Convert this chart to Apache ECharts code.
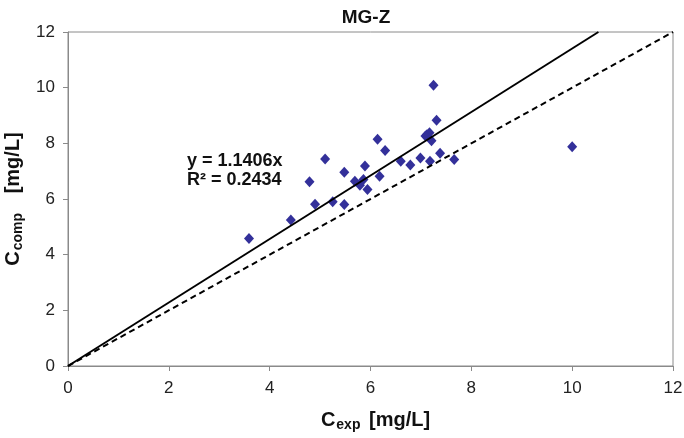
<!DOCTYPE html>
<html>
<head>
<meta charset="utf-8">
<script src="https://cdn.jsdelivr.net/npm/echarts@6/dist/echarts.min.js"></script>
<style>html,body{margin:0;padding:0;background:#fff}#c{width:684px;height:438px}</style>
</head>
<body>
<div id="c"></div>
<script>
const titleText = 'MG-Z';
const xTicks = [0, 2, 4, 6, 8, 10, 12];
const yTicks = [0, 2, 4, 6, 8, 10, 12];
const cExp = [3.59, 4.42, 4.79, 4.90, 5.10, 5.25, 5.48, 5.48, 5.69, 5.79, 5.86, 5.94, 5.89, 6.14, 6.18, 6.29, 6.60, 6.79, 6.99, 7.12, 7.17, 7.09, 7.21, 7.18, 7.25, 7.31, 7.38, 7.66, 10.0];
const cComp = [4.58, 5.25, 6.62, 5.81, 7.44, 5.90, 6.96, 5.80, 6.64, 6.49, 6.70, 6.34, 7.19, 8.15, 6.82, 7.74, 7.36, 7.22, 7.47, 8.31, 8.38, 8.26, 8.09, 7.36, 10.09, 8.83, 7.64, 7.42, 7.88];
const slope = 1.1406;
const r2 = 0.2434;
const axisMax = 12;

const points = cExp.map((x, i) => [x, cComp[i]]);
const fitLine = [[0, 0], [axisMax / slope, axisMax]];
const oneToOne = [[0, 0], [axisMax, axisMax]];

const chart = echarts.init(document.getElementById('c'));
const tickFont = "'Liberation Sans', Arial, sans-serif";
const boldFont = "'Liberation Sans', Arial, sans-serif";
const axisCommon = {
  min: 0, max: axisMax, interval: 2,
  axisLine: { show: true, lineStyle: { color: '#8a8a8a', width: 1 } },
  axisTick: { show: true, inside: false, length: 5, lineStyle: { color: '#8a8a8a' } },
  splitLine: { show: false },
  axisLabel: { color: '#222', fontSize: 17, fontFamily: tickFont }
};
const nameRich = {
  m: { fontSize: 20, fontWeight: 'bold', color: '#111', fontFamily: boldFont, lineHeight: 24 },
  s: { fontSize: 14, fontWeight: 'bold', color: '#111', fontFamily: boldFont, lineHeight: 12, verticalAlign: 'bottom', padding: [0, 3, 0, 1] }
};
chart.setOption({
  animation: false,
  backgroundColor: '#fff',
  title: {
    text: titleText, left: 361, top: 3, textAlign: 'center',
    textStyle: { fontSize: 19, fontWeight: 'bold', color: '#111', fontFamily: boldFont }
  },
  grid: { left: 68, right: 11, top: 32, bottom: 72, containLabel: false, outerBoundsMode: 'none', show: true, borderColor: '#8a8a8a', borderWidth: 1 },
  xAxis: Object.assign({}, axisCommon, {
    type: 'value',
    axisLabel: Object.assign({}, axisCommon.axisLabel, { margin: 14 }),
    name: '{m|C}{s|exp}{m| [mg/L]}',
    nameLocation: 'middle', nameGap: 42,
    nameTextStyle: { rich: nameRich, padding: [0, 0, 0, 10] }
  }),
  yAxis: Object.assign({}, axisCommon, {
    type: 'value',
    axisLabel: Object.assign({}, axisCommon.axisLabel, { margin: 13 }),
    name: '{m|C}{s|comp}{m|   [mg/L]}',
    nameLocation: 'middle', nameGap: 40, nameRotate: 90,
    nameTextStyle: { rich: nameRich }
  }),
  series: [
    {
      type: 'line', data: oneToOne, showSymbol: false, silent: true,
      lineStyle: { color: '#000', width: 2, type: [6, 4] }
    },
    {
      type: 'line', data: fitLine, showSymbol: false, silent: true,
      lineStyle: { color: '#000', width: 2 }
    },
    {
      type: 'scatter', data: points, symbol: 'diamond', symbolSize: [10, 11],
      itemStyle: { color: '#33309a', opacity: 1 }
    }
  ],
  graphic: [
    {
      type: 'text', left: 187, top: 152,
      style: {
        text: 'y = ' + slope.toFixed(4) + 'x\nR² = ' + r2.toFixed(4),
        font: 'bold 18px ' + boldFont, fill: '#111', lineHeight: 19
      }
    }
  ]
});
</script>
</body>
</html>
